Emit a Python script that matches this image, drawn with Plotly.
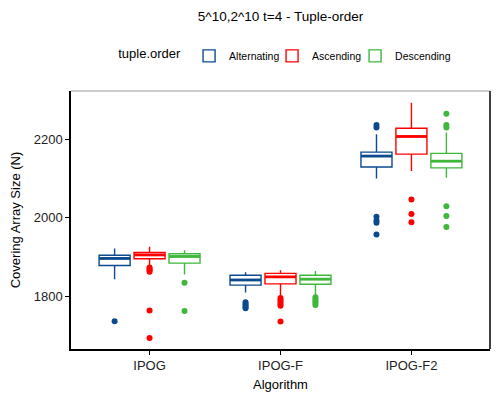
import plotly.graph_objects as go

algorithms = ["IPOG", "IPOG-F", "IPOG-F2"]
orders = ["Alternating", "Ascending", "Descending"]
colors = {"Alternating": "#0b4a8f", "Ascending": "#ff0000", "Descending": "#3fb73b"}

# per order: values for IPOG, IPOG-F, IPOG-F2
alt_lower = [1843, 1809, 2100]
alt_q1 = [1878, 1828, 2129]
alt_median = [1896, 1841, 2157]
alt_q3 = [1904, 1853, 2167]
alt_upper = [1921, 1861, 2213]
alt_outliers = [[1736], [1784, 1780, 1776, 1772, 1769], [2236, 2230, 2002, 1993, 1987, 1957]]

asc_lower = [1878, 1798, 2119]
asc_q1 = [1895, 1831, 2162]
asc_median = [1905, 1849, 2207]
asc_q3 = [1911, 1858, 2228]
asc_upper = [1926, 1866, 2293]
asc_outliers = [[1873, 1869, 1866, 1862, 1763, 1693], [1795, 1790, 1785, 1780, 1775, 1735], [2046, 2009, 1988]]

desc_lower = [1855, 1802, 2102]
desc_q1 = [1884, 1830, 2127]
desc_median = [1901, 1843, 2144]
desc_q3 = [1908, 1853, 2164]
desc_upper = [1917, 1864, 2217]
desc_outliers = [[1834, 1762], [1797, 1792, 1787, 1782, 1777], [2265, 2236, 2230, 2029, 2004, 1976]]

stats = {
    "Alternating": (alt_lower, alt_q1, alt_median, alt_q3, alt_upper, alt_outliers),
    "Ascending": (asc_lower, asc_q1, asc_median, asc_q3, asc_upper, asc_outliers),
    "Descending": (desc_lower, desc_q1, desc_median, desc_q3, desc_upper, desc_outliers),
}

slot = 0.267
box_w = 0.237
base = [1, 2, 3]

fig = go.Figure()
for i, order in enumerate(orders):
    lo, q1, med, q3, up, outs = stats[order]
    off = (i - 1) * slot
    xs = [b + off for b in base]
    c = colors[order]
    fig.add_trace(go.Box(
        x=xs, q1=q1, median=med, q3=q3, lowerfence=lo, upperfence=up,
        width=box_w, whiskerwidth=0, name=order, legendgroup=order,
        line=dict(color=c, width=1.4), fillcolor="white", boxpoints=False,
        showlegend=True,
    ))
    # thicker median lines
    mx, my = [], []
    for x, m in zip(xs, med):
        mx += [x - box_w / 2, x + box_w / 2, None]
        my += [m, m, None]
    fig.add_trace(go.Scatter(x=mx, y=my, mode="lines", line=dict(color=c, width=2.8),
                             showlegend=False, legendgroup=order, hoverinfo="skip"))
    ox, oy = [], []
    for x, vals in zip(xs, outs):
        ox += [x] * len(vals)
        oy += vals
    fig.add_trace(go.Scatter(x=ox, y=oy, mode="markers", marker=dict(color=c, size=6),
                             showlegend=False, legendgroup=order, hoverinfo="skip"))

# empty legend spacer so the last legend label is not clipped
fig.add_trace(go.Scatter(x=[None], y=[None], mode="markers", name=" ",
                         marker=dict(color="rgba(0,0,0,0)", size=1,
                                     line=dict(width=0, color="rgba(0,0,0,0)")),
                         showlegend=True, hoverinfo="skip"))

fig.update_layout(
    width=492, height=392,
    margin=dict(l=63, r=10, t=83, b=51, autoexpand=False),
    paper_bgcolor="white", plot_bgcolor="white",
    font=dict(family="Liberation Sans, Arial, sans-serif", color="black", size=12),
    title=dict(text="5^10,2^10 t=4 - Tuple-order", xref="paper", x=0.5, xanchor="center",
               yref="container", y=0.979, yanchor="middle", font=dict(size=13.5)),
    legend=dict(orientation="h", x=0.108, xanchor="left", y=1.136, yanchor="middle",
                title=dict(text="tuple.order", font=dict(size=13), side="left"),
                font=dict(size=10.5), itemwidth=30, entrywidth=38, tracegroupgap=0),
    showlegend=True,
)
fig.update_xaxes(
    range=[0.4, 3.6], tickvals=base, ticktext=algorithms, automargin=False,
    showgrid=False, zeroline=False, showline=True, linecolor="black", linewidth=1.5,
    ticks="outside", ticklen=4, tickcolor="black",
    tickfont=dict(size=13, color="#222222"),
    title=dict(text="Algorithm", font=dict(size=13), standoff=8),
)
fig.update_yaxes(
    range=[1665, 2323], tickvals=[1800, 2000, 2200], automargin=False,
    showgrid=False, zeroline=False, showline=True, linecolor="black", linewidth=1.5,
    ticks="outside", ticklen=4, tickcolor="black",
    tickfont=dict(size=13, color="#222222"),
    title=dict(text="Covering Array Size (N)", font=dict(size=13), standoff=12),
)
fig.add_shape(type="line", xref="paper", yref="paper", x0=0, x1=1, y0=1, y1=1,
              line=dict(color="#999999", width=1))
fig.add_shape(type="line", xref="paper", yref="paper", x0=1, x1=1, y0=0, y1=1,
              line=dict(color="black", width=1.5))

fig.write_html("out.html")
